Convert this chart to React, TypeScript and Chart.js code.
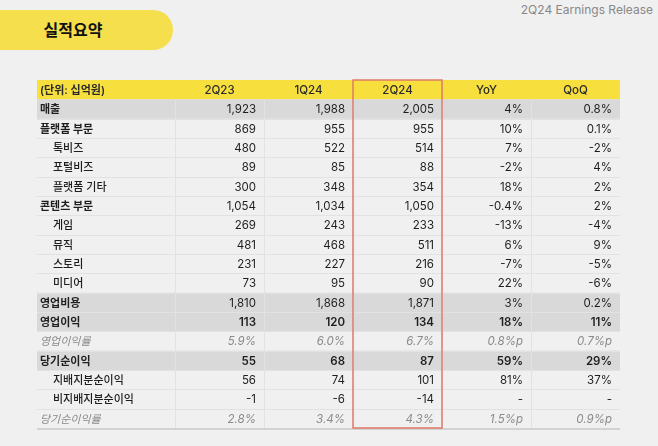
import React, { useEffect, useRef } from 'react';
import { Chart, registerables } from 'chart.js';

Chart.register(...registerables);

const unitLabel = '(단위: 십억원)';
const columns = ['2Q23', '1Q24', '2Q24', 'YoY', 'QoQ'];
const rowLabels = ['매출', '플랫폼 부문', '톡비즈', '포털비즈', '플랫폼 기타', '콘텐츠 부문', '게임', '뮤직', '스토리', '미디어', '영업비용', '영업이익', '영업이익률', '당기순이익', '지배지분순이익', '비지배지분순이익', '당기순이익률'];
// row kinds: main = bold on gray, section = bold, sub = indented, margin = italic ratio row
const rowKinds = ['main', 'section', 'sub', 'sub', 'sub', 'section', 'sub', 'sub', 'sub', 'sub', 'main', 'main', 'margin', 'main', 'sub', 'sub', 'margin'];
const q2_23 = [1923, 869, 480, 89, 300, 1054, 269, 481, 231, 73, 1810, 113, 5.9, 55, 56, -1, 2.8];
const q1_24 = [1988, 955, 522, 85, 348, 1034, 243, 468, 227, 95, 1868, 120, 6.0, 68, 74, -6, 3.4];
const q2_24 = [2005, 955, 514, 88, 354, 1050, 233, 511, 216, 90, 1871, 134, 6.7, 87, 101, -14, 4.3];
const yoy: (number | null)[] = [4, 10, 7, -2, 18, -0.4, -13, 6, -7, 22, 3, 18, 0.8, 59, 81, null, 1.5];
const qoq: (number | null)[] = [0.8, 0.1, -2, 4, 2, 2, -4, 9, -5, -6, 0.2, 11, 0.7, 29, 37, null, 0.9];
const highlightColumn = '2Q24';

const FONT = 'Inter, "Noto Sans CJK KR", "Noto Sans", sans-serif';
const LABEL_COL_W = 138;

function fmtValue(v: number, kind: string) {
  if (kind === 'margin') return v.toFixed(1) + '%';
  return v.toLocaleString('en-US');
}
function fmtChange(v: number | null, kind: string) {
  if (v === null) return '-';
  return String(v) + (kind === 'margin' ? '%p' : '%');
}

const tablePlugin = {
  id: 'tablePlugin',
  afterDraw(chart: any) {
    const { ctx, chartArea: a, scales } = chart;
    const x = scales.x;
    const y = scales.y;
    const nRows = rowLabels.length + 1;
    const rowH = (a.bottom - a.top) / nRows;
    const colW = (a.right - a.left) / columns.length;
    const left = a.left - LABEL_COL_W;
    const right = a.right;
    const rowTop = (i: number) => y.getPixelForValue(i) - rowH / 2;
    const colLeft = (j: number) => x.getPixelForValue(j) - colW / 2;

    ctx.save();
    // header
    ctx.fillStyle = '#f7df3e';
    ctx.fillRect(left, rowTop(0), right - left, rowH);
    // gray rows
    rowKinds.forEach((k, i) => {
      if (k === 'main') {
        ctx.fillStyle = '#d9d9d9';
        ctx.fillRect(left, rowTop(i + 1), right - left, rowH);
      }
    });
    // horizontal lines
    ctx.strokeStyle = '#e2e2e2';
    ctx.lineWidth = 1;
    for (let i = 2; i < nRows; i++) {
      const yy = Math.round(rowTop(i)) + 0.5;
      ctx.beginPath();
      ctx.moveTo(left, yy);
      ctx.lineTo(right, yy);
      ctx.stroke();
    }
    // vertical lines
    for (let j = 0; j < columns.length; j++) {
      const xx = Math.round(colLeft(j)) + 0.5;
      ctx.beginPath();
      ctx.moveTo(xx, rowTop(1));
      ctx.lineTo(xx, a.bottom);
      ctx.stroke();
    }
    // bottom line
    ctx.strokeStyle = '#d2d2d2';
    ctx.lineWidth = 2;
    ctx.beginPath();
    ctx.moveTo(left, a.bottom + 1);
    ctx.lineTo(right, a.bottom + 1);
    ctx.stroke();

    // header text
    ctx.textBaseline = 'middle';
    ctx.fillStyle = '#2a2a2a';
    ctx.font = `600 11px ${FONT}`;
    ctx.textAlign = 'left';
    ctx.fillText(unitLabel, left + 3, y.getPixelForValue(0) + 1);
    ctx.font = `500 11.5px ${FONT}`;
    ctx.textAlign = 'center';
    columns.forEach((c, j) => {
      ctx.fillText(c, x.getPixelForValue(j), y.getPixelForValue(0) + 1);
    });

    // rows
    const series = [q2_23, q1_24, q2_24];
    rowLabels.forEach((label, i) => {
      const kind = rowKinds[i];
      const cy = y.getPixelForValue(i + 1) + 1;
      const italic = kind === 'margin';
      const color = italic ? '#8a8a8a' : '#1e1e1e';
      ctx.fillStyle = color;
      ctx.textAlign = 'left';
      const lw = kind === 'main' || kind === 'section' ? 700 : 500;
      ctx.font = `${italic ? 'italic ' : ''}${italic ? 400 : lw} 11px ${FONT}`;
      ctx.fillText(label, left + (kind === 'sub' ? 16 : 3), cy);
      const vw = italic ? 400 : (label === '영업이익' || label === '당기순이익') ? 600 : 400;
      ctx.font = `${italic ? 'italic ' : ''}${vw} 11.5px ${FONT}`;
      ctx.textAlign = 'right';
      series.forEach((s, j) => {
        ctx.fillText(fmtValue(s[i], kind), colLeft(j) + colW - 8, cy);
      });
      ctx.fillText(fmtChange(yoy[i], kind), colLeft(3) + colW - 8, cy);
      ctx.fillText(fmtChange(qoq[i], kind), colLeft(4) + colW - 8, cy);
    });

    // highlight box
    const hj = columns.indexOf(highlightColumn);
    ctx.strokeStyle = '#df7a68';
    ctx.lineWidth = 1.5;
    ctx.strokeRect(colLeft(hj), rowTop(0), colW, a.bottom - rowTop(0));
    ctx.restore();
  },
};

export default function App() {
  const ref = useRef<HTMLCanvasElement>(null);
  useEffect(() => {
    document.body.style.margin = '0';
    const chart = new Chart(ref.current as HTMLCanvasElement, {
      type: 'line',
      data: { labels: columns, datasets: [] },
      options: {
        animation: false,
        responsive: false,
        devicePixelRatio: 1,
        layout: { padding: { left: 175, right: 38, top: 80, bottom: 18 } },
        plugins: { legend: { display: false }, tooltip: { enabled: false } },
        scales: {
          x: { type: 'category', labels: columns, offset: true, display: false },
          y: { type: 'category', labels: [unitLabel, ...rowLabels], offset: true, display: false },
        },
      } as any,
      plugins: [tablePlugin],
    });
    return () => chart.destroy();
  }, []);

  return (
    <div style={{ position: 'absolute', left: 0, top: 0, width: 658, height: 446, background: '#f0f0f0', overflow: 'hidden', fontFamily: FONT }}>
      <div style={{ position: 'absolute', left: 0, top: 10, width: 173, height: 40, background: '#f5df4d', borderRadius: '0 20px 20px 0' }} />
      <div style={{ position: 'absolute', left: 0, top: 10, width: 146, height: 40, lineHeight: '40px', textAlign: 'center', fontWeight: 700, fontSize: 16, color: '#111' }}>실적요약</div>
      <div style={{ position: 'absolute', right: 5, top: 2, fontSize: 12, color: '#888', lineHeight: '16px', fontFamily: 'Inter, "Liberation Sans", sans-serif' }}>2Q24 Earnings Release</div>
      <canvas ref={ref} width={658} height={446} style={{ position: 'absolute', left: 0, top: 0 }} />
    </div>
  );
}
